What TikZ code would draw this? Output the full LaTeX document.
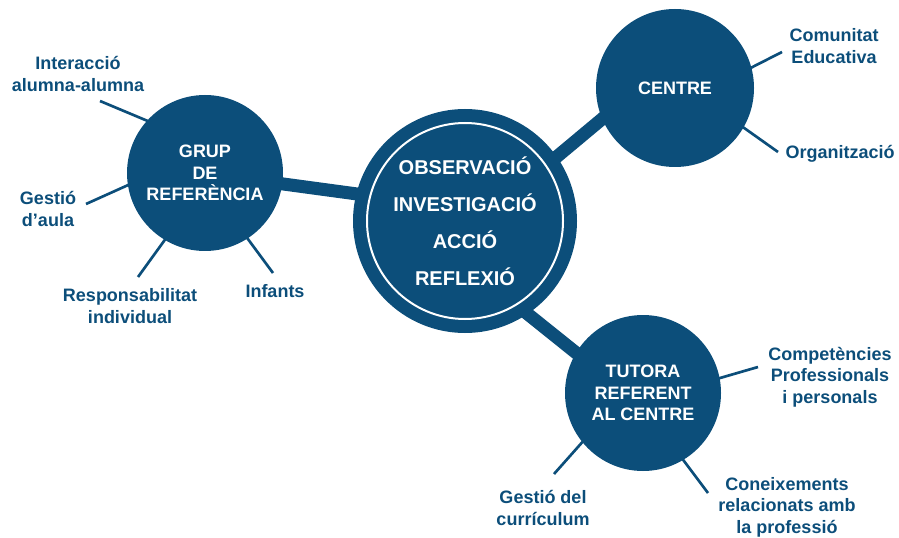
\documentclass[tikz,border=0pt]{standalone}
\usepackage{fontspec}
\setmainfont{Liberation Sans}
\usepackage{tikz}
\usetikzlibrary{positioning,backgrounds}
\definecolor{fosc}{HTML}{0C4E7A}

\begin{document}
\begin{tikzpicture}
  [x=0.75pt,y=-0.75pt,
   hub/.style={circle, fill=fosc, text=white, align=center, inner sep=0pt,
     minimum size=117pt, font=\bfseries\fontsize{13.5}{16.2}\selectfont},
   leaf/.style={text=fosc, align=center, inner sep=0pt,
     font=\bfseries\fontsize{13.5}{16.2}\selectfont},
   bar/.style={draw=fosc, line width=9.75pt, shorten <=-4pt, shorten >=-4pt},
   twig/.style={draw=fosc, line width=2pt, shorten <=-2pt}]
  \useasboundingbox (0,0) rectangle (899,538);

  \node [hub, minimum size=168pt, font=\bfseries\fontsize{15}{27.75}\selectfont] (obs) at (465,221)
    {OBSERVACIÓ\\INVESTIGACIÓ\\ACCIÓ\\REFLEXIÓ};
  \draw [white, line width=1.5pt] (obs.center) circle (73.5pt);

  \node [hub] (grup) at (205,173) {GRUP\\DE\\REFERÈNCIA};
  \node [hub, minimum size=118.5pt] (centre) at (675,88) {CENTRE};
  \node [hub] (tutora) at (643,393) {TUTORA\\REFERENT\\AL CENTRE};

  \node [leaf] (interaccio) at (78,74) {Interacció\\alumna-alumna};
  \node [leaf] (gestioaula) at (48,209) {Gestió\\d’aula};
  \node [leaf] (respons) at (130,306) {Responsabilitat\\individual};
  \node [leaf] (infants) at (275,291) {Infants};
  \node [leaf] (comunitat) at (834,46) {Comunitat\\Educativa};
  \node [leaf] (organitz) at (840,154) {Organització};
  \node [leaf] (compet) at (830,377) {Competències\\Professionals\\i personals};
  \node [leaf] (coneix) at (787,507) {Coneixements\\relacionats amb\\la professió};
  \node [leaf] (gestiocurr) at (543,508) {Gestió del\\currículum};

  \coordinate (t1) at (100,101);
  \coordinate (t2) at (86,204);
  \coordinate (t3) at (138,277);
  \coordinate (t4) at (273,273);
  \coordinate (t5) at (782,52);
  \coordinate (t6) at (778,152);
  \coordinate (t7) at (758,367);
  \coordinate (t8) at (708,493);
  \coordinate (t9) at (554,474);

  \begin{pgfonlayer}{background}
  \path [bar]
  (grup.-8) edge (obs.166)
  (obs.35) edge (centre.203)
  (obs.-56) edge (tutora.149);

  \path [twig]
  (grup.138) edge (t1)
  (grup.189) edge (t2)
  (grup.239) edge (t3)
  (grup.303) edge (t4)
  (centre.15) edge (t5)
  (centre.-30) edge (t6)
  (tutora.11) edge (t7)
  (tutora.-59) edge (t8)
  (tutora.219) edge (t9);
  \end{pgfonlayer}

\end{tikzpicture}
\end{document}
